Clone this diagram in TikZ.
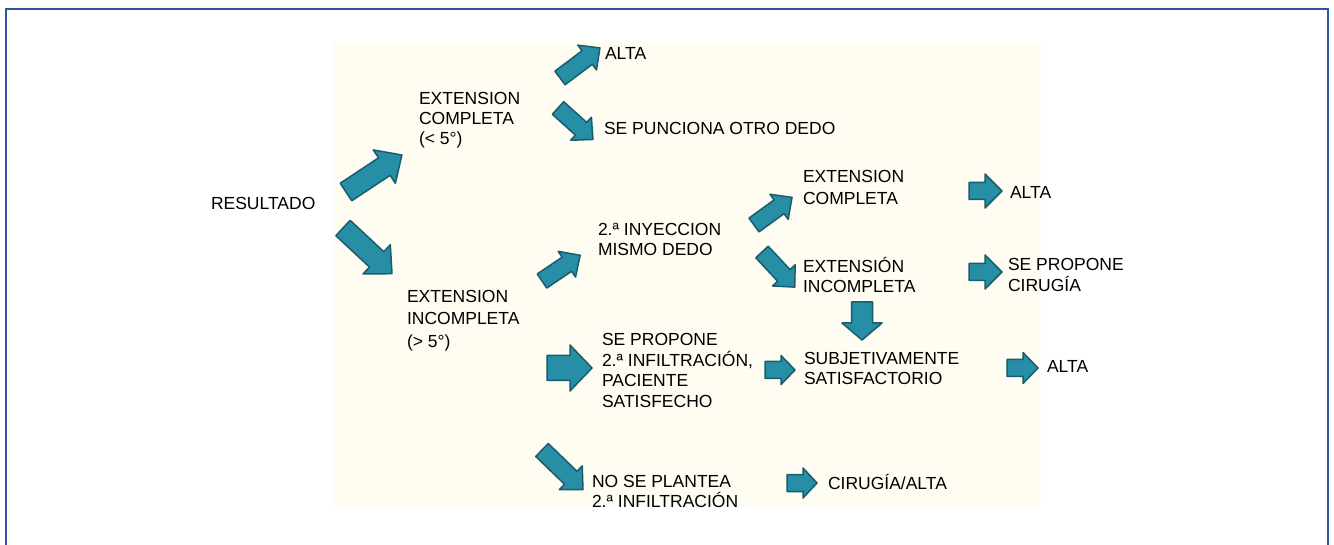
\documentclass[tikz,border=0pt]{standalone}
\usepackage{fontspec}
\setmainfont{Liberation Sans}
\definecolor{arrfill}{RGB}{38,142,165}
\definecolor{arrdraw}{RGB}{26,92,110}
\definecolor{cream}{RGB}{255,252,241}
\definecolor{framec}{RGB}{45,85,165}
\newcommand{\myst}{\rule{0pt}{16pt}}
% x y angle length shaft head headlength
\newcommand{\barrow}[7]{%
  \draw[blockarr, shift={(#1,#2)}, rotate=#3]
    (0,{-#5/2}) -- ({#4-#7},{-#5/2}) -- ({#4-#7},{-#6/2}) -- (#4,0)
    -- ({#4-#7},{#6/2}) -- ({#4-#7},{#5/2}) -- (0,{#5/2}) -- cycle;}
\tikzset{
  blockarr/.style={fill=arrfill, draw=arrdraw, line width=1.5pt, line join=round},
  txt/.style={inner sep=0pt, outer sep=0pt, anchor=north west, align=left,
              font=\fontsize{17.5}{20.5}\selectfont, text=black},
}
\begin{document}
\begin{tikzpicture}[x=1pt,y=-1pt]
\useasboundingbox (0,0) rectangle (1334,545);
\fill[white] (0,0) rectangle (1334,545);
\draw[framec, line width=1.3pt] (6,9) rectangle (1328,560);
\fill[cream] (333,42) rectangle (1041,506);

% text nodes (position = cap top minus 3.5)
\node[txt] (res) at (211,193.5) {\myst RESULTADO};
\node[txt, font=\fontsize{17.5}{20}\selectfont] (ec1) at (419,88.5) {\myst EXTENSION\\COMPLETA\\(< 5°)};
\node[txt] (alta1) at (605,43.5) {\myst ALTA};
\node[txt] (spod) at (604,118.5) {\myst SE PUNCIONA OTRO DEDO};
\node[txt, font=\fontsize{17.5}{22.5}\selectfont] (ei1) at (407,286.5) {\myst EXTENSION\\INCOMPLETA\\(> 5°)};
\node[txt, font=\fontsize{17.5}{20}\selectfont] (iny) at (598,219.5) {\myst 2.ª INYECCION\\MISMO DEDO};
\node[txt, font=\fontsize{17.5}{22}\selectfont] (ec2) at (803,166.5) {\myst EXTENSION\\COMPLETA};
\node[txt, font=\fontsize{17.5}{20}\selectfont] (ei2) at (803,256.5) {\myst EXTENSIÓN\\INCOMPLETA};
\node[txt] (alta2) at (1010,182.5) {\myst ALTA};
\node[txt, font=\fontsize{17.5}{21}\selectfont] (spc) at (1008,254.5) {\myst SE PROPONE\\CIRUGÍA};
\node[txt, font=\fontsize{17.5}{20.7}\selectfont] (spi) at (602,329.5) {\myst SE PROPONE\\2.ª INFILTRACIÓN,\\PACIENTE\\SATISFECHO};
\node[txt, font=\fontsize{17.5}{20}\selectfont] (sub) at (804,348.5) {\myst SUBJETIVAMENTE\\SATISFACTORIO};
\node[txt] (alta3) at (1047,356.5) {\myst ALTA};
\node[txt, font=\fontsize{17.5}{20}\selectfont] (nsp) at (592,471.5) {\myst NO SE PLANTEA\\2.ª INFILTRACIÓN};
\node[txt] (cir) at (828,473.5) {\myst CIRUGÍA/ALTA};

% block arrows
\barrow{346}{192}{33.5}{67}{21}{40}{21}
\barrow{343}{228}{-43}{67}{21}{40}{21}
\barrow{560}{78}{37}{50}{17}{31}{16}
\barrow{558}{108}{-42}{47}{17}{31}{16}
\barrow{542}{281}{34}{46}{17}{31}{16}
\barrow{754}{225}{36}{47}{17}{31}{16}
\barrow{762}{252}{-47}{48}{17}{31}{16}
\barrow{542}{450}{-44}{57}{18}{33}{17}
\barrow{969}{191}{0}{33}{17}{34}{17}
\barrow{969}{272}{0}{33}{17}{34}{17}
\barrow{547}{368}{0}{45}{25}{46}{22}
\barrow{765}{370}{0}{30}{17}{29}{14}
\barrow{1007}{368}{0}{31}{17}{31}{15}
\barrow{787}{483}{0}{30}{17}{30}{14}
\barrow{862}{302}{-90}{38}{21}{40}{17}
\end{tikzpicture}
\end{document}
